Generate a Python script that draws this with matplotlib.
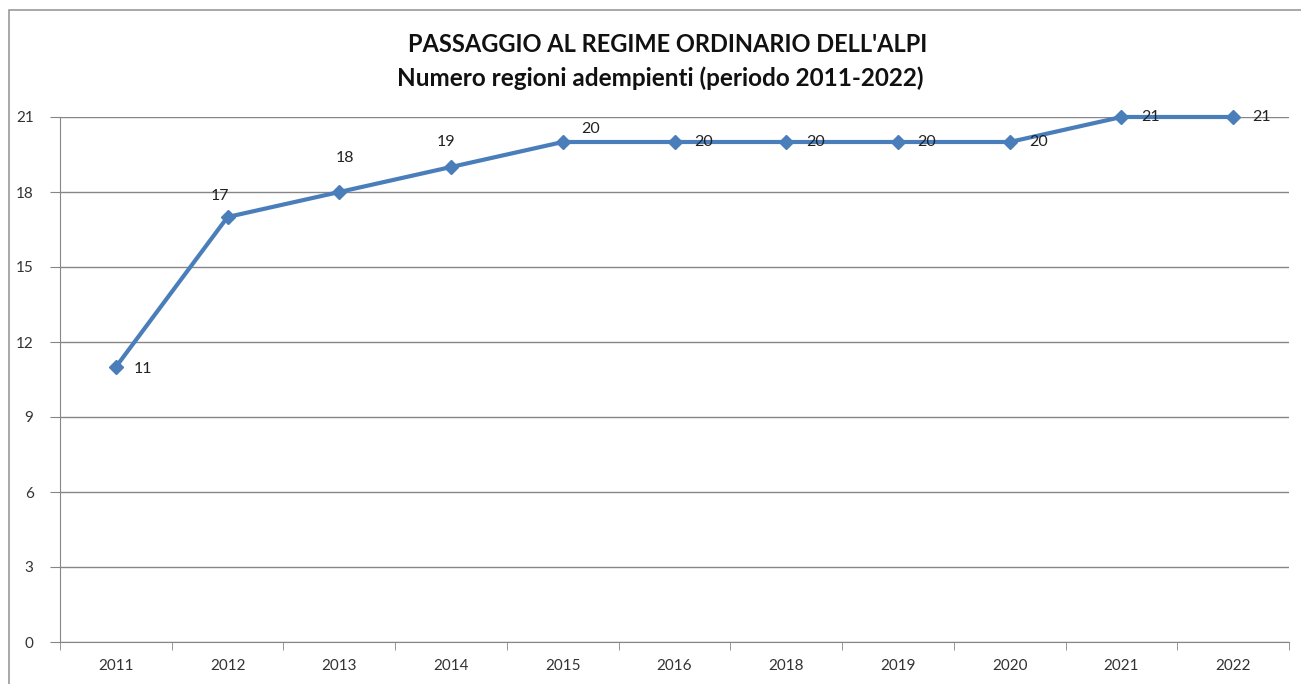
import matplotlib.pyplot as plt
from matplotlib.patches import Rectangle

# dati
anni = ['2011', '2012', '2013', '2014', '2015', '2016', '2018', '2019', '2020', '2021', '2022']
regioni = [11, 17, 18, 19, 20, 20, 20, 20, 20, 21, 21]
# spostamento etichette (pixel)
off_x = [27, -8, 6, -5, 28, 29, 29, 29, 29, 29, 28]
off_y = [-2, 21, 34, 25, 13, 0, 0, 0, 0, 0, 0]

plt.rcParams['font.family'] = ['Lato', 'DejaVu Sans']

fig = plt.figure(figsize=(13.01, 6.84), dpi=100)
ax = fig.add_axes([60 / 1301, 1 - 642 / 684, 1229 / 1301, 525 / 684])

fig.patches.append(Rectangle((9 / 1301, -0.1), 1.2, 1 - 10 / 684 + 0.1,
                             transform=fig.transFigure, fill=False,
                             edgecolor='#9a9a9a', lw=1.2))

x = list(range(len(anni)))
ax.plot(x, regioni, color='#4A7EBB', lw=3, marker='D', markersize=7,
        clip_on=False, zorder=3)

for i, v in enumerate(regioni):
    ax.annotate(str(v), (i, v), xytext=(off_x[i], off_y[i]),
                textcoords='offset pixels', ha='center', va='center',
                fontsize=11.5, color='#222222', zorder=4)

ax.set_xlim(-0.5, len(anni) - 0.5)
ax.set_ylim(0, 21)
ax.set_yticks(range(0, 22, 3))
ax.set_xticks(x)
ax.set_xticklabels(anni)
ax.set_xticks([i - 0.5 for i in range(len(anni) + 1)], minor=True)
ax.tick_params(axis='x', which='major', length=0, pad=12, labelsize=11,
               labelcolor='#333333')
ax.tick_params(axis='x', which='minor', length=6, color='#868686', direction='out')
ax.tick_params(axis='y', length=7, color='#868686', labelsize=11,
               labelcolor='#333333', pad=12)

ax.grid(axis='y', color='#868686', lw=1)
ax.set_axisbelow(True)
for s in ['top', 'right']:
    ax.spines[s].set_visible(False)
for s in ['left', 'bottom']:
    ax.spines[s].set_color('#868686')

fig.text(668 / 1301, 1 - 45 / 684, "PASSAGGIO AL REGIME ORDINARIO DELL'ALPI",
         ha='center', va='center', fontsize=17, fontweight='bold', color='#111111')
fig.text(660 / 1301, 1 - 78 / 684, "Numero regioni adempienti (periodo 2011-2022)",
         ha='center', va='center', fontsize=17.5, fontweight='bold', color='#111111')

fig.savefig('out.png', dpi=100)
